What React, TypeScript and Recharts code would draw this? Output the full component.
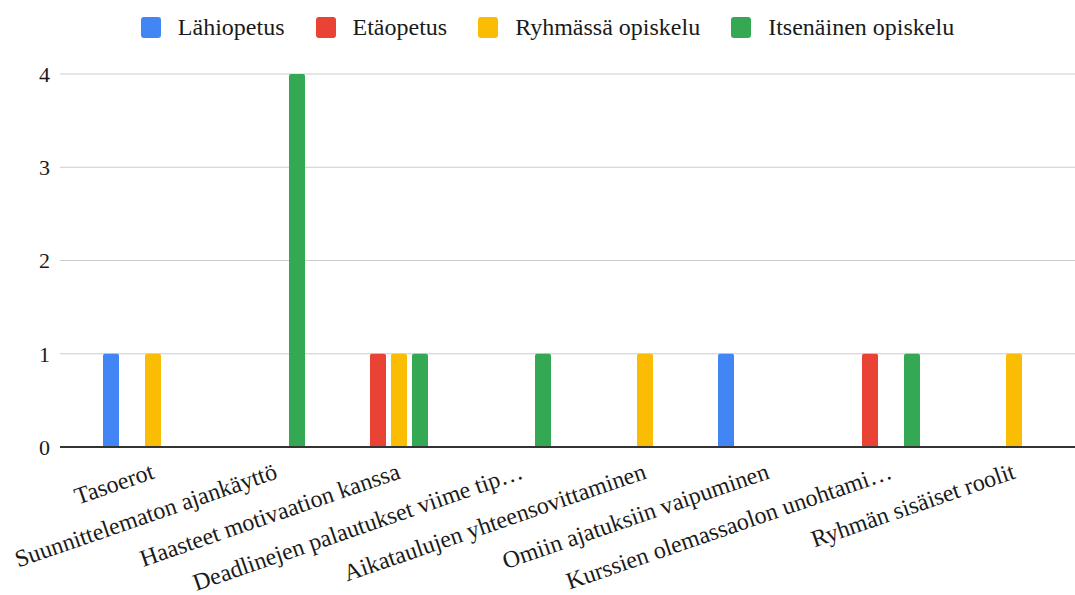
import React from 'react';
import { BarChart, Bar, XAxis, YAxis, CartesianGrid } from 'recharts';

const categories = [
  'Tasoerot',
  'Suunnittelematon ajankäyttö',
  'Haasteet motivaation kanssa',
  'Deadlinejen palautukset viime tip…',
  'Aikataulujen yhteensovittaminen',
  'Omiin ajatuksiin vaipuminen',
  'Kurssien olemassaolon unohtami…',
  'Ryhmän sisäiset roolit',
];

const lahiopetus = [1, 0, 0, 0, 0, 1, 0, 0];
const etaopetus = [0, 0, 1, 0, 0, 0, 1, 0];
const ryhmassa = [1, 0, 1, 0, 1, 0, 0, 1];
const itsenainen = [0, 4, 1, 1, 0, 0, 1, 0];

const yTicks = [0, 1, 2, 3, 4];

const series = [
  { key: 'lahi', name: 'Lähiopetus', color: '#4285F4', values: lahiopetus },
  { key: 'eta', name: 'Etäopetus', color: '#EA4335', values: etaopetus },
  { key: 'ryhma', name: 'Ryhmässä opiskelu', color: '#FBBC04', values: ryhmassa },
  { key: 'itse', name: 'Itsenäinen opiskelu', color: '#34A853', values: itsenainen },
];

const data = categories.map((name, i) => {
  const row: Record<string, string | number> = { name };
  series.forEach(s => { row[s.key] = s.values[i]; });
  return row;
});

const FONT = '"Liberation Serif", "Times New Roman", serif';

function AngledTick(props: any) {
  const { x, y, payload } = props;
  return (
    <g transform={`translate(${x + 13},${y + 23})`}>
      <text
        x={0}
        y={0}
        textAnchor="end"
        transform="rotate(-19)"
        fill="#1a1a1a"
        fontSize={24}
        fontFamily={FONT}
      >
        {payload.value}
      </text>
    </g>
  );
}

export default function App() {
  return (
    <div style={{ position: 'absolute', left: 0, top: 0, width: 1075, height: 595, background: '#fff' }}>
      <div
        style={{
          position: 'absolute',
          top: 15,
          left: 0,
          width: 1075,
          display: 'flex',
          justifyContent: 'center',
          gap: 31,
          fontFamily: FONT,
          fontSize: 24,
          lineHeight: '24px',
          color: '#1a1a1a',
          paddingLeft: 20,
          boxSizing: 'border-box',
        }}
      >
        {series.map(s => (
          <div key={s.key} style={{ display: 'flex', alignItems: 'center' }}>
            <span
              style={{
                display: 'inline-block',
                width: 20,
                height: 21,
                borderRadius: 3,
                background: s.color,
                marginRight: 17,
              }}
            />
            <span>{s.name}</span>
          </div>
        ))}
      </div>
      <BarChart
        width={1075}
        height={595}
        data={data}
        margin={{ top: 74, right: 0, left: 0, bottom: 0 }}
        barSize={16}
        barGap={5}
        barCategoryGap={22}
      >
        <CartesianGrid vertical={false} stroke="#cccccc" />
        <XAxis
          dataKey="name"
          interval={0}
          height={148}
          tick={<AngledTick />}
          tickLine={false}
          axisLine={{ stroke: '#333333', strokeWidth: 2 }}
          padding={{ left: 21, right: 10 }}
        />
        <YAxis
          domain={[0, 4]}
          ticks={yTicks}
          width={60}
          axisLine={false}
          tickLine={false}
          tickMargin={4}
          tick={{ fill: '#1a1a1a', fontSize: 22, fontFamily: FONT }}
        />
        {series.map(s => (
          <Bar
            key={s.key}
            dataKey={s.key}
            name={s.name}
            fill={s.color}
            radius={[2, 2, 0, 0]}
            isAnimationActive={false}
          />
        ))}
      </BarChart>
    </div>
  );
}
